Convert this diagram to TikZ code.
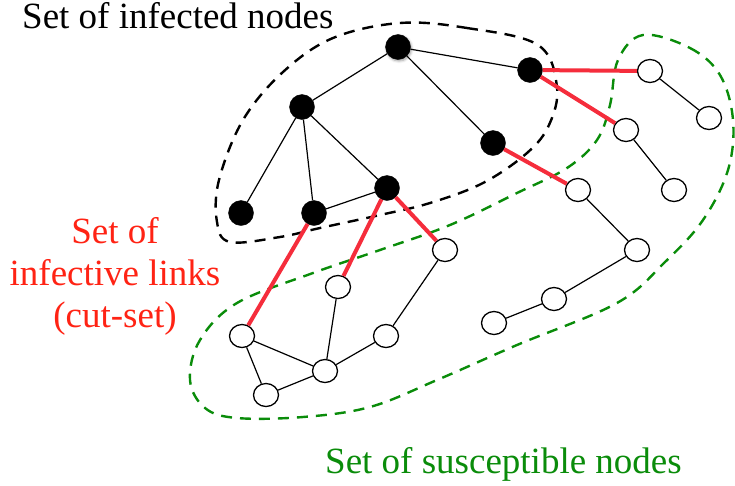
\documentclass[tikz,border=0pt]{standalone}
\usepackage{fontspec}
\setmainfont{Liberation Serif}
% one face per label colour, the colour carried by the font itself
\newfontfamily\inkfont{Liberation Serif}[Color=000000]
\newfontfamily\cutfont{Liberation Serif}[Color=FF2314]
\newfontfamily\susfont{Liberation Serif}[Color=0A8C0A]
\usetikzlibrary{shapes.geometric,shadows.blur}
\definecolor{linkred}{RGB}{245,45,60}
\definecolor{setgreen}{RGB}{10,140,10}
\tikzset{
  inf/.style={circle,fill=black,draw=black,minimum size=25pt,inner sep=0pt},
  sus/.style={ellipse,fill=white,draw=black,line width=1.3pt,minimum width=25pt,minimum height=23pt,inner sep=0pt},
  link/.style={line width=1.2pt,black},
  cut/.style={line width=4pt,linkred},
  region/.style={line width=2.4pt,dash pattern=on 11pt off 8pt},
  lbl/.style={inner sep=0pt}
}
\newcommand{\lblsize}{\fontsize{37}{42}\selectfont}
\begin{document}
\begin{tikzpicture}[x=1pt,y=-1pt]
\useasboundingbox (0,0) rectangle (735,485);

% dashed set boundaries
\draw[region,black] plot[smooth cycle,tension=0.6] coordinates {
  (400,23) (467,28) (538,45) (557,87) (549,125) (527,153) (483,183)
  (430,203) (380,215) (320,228) (280,237) (230,242) (217,222)
  (219,180) (243,120) (283,72) (333,38)};
\draw[region,setgreen] plot[smooth cycle,tension=0.6] coordinates {
  (643,35) (690,48) (720,75) (733,120) (728,170) (703,220) (665,262)
  (617,303) (517,345) (437,380) (370,407) (303,417) (237,418) (205,408)
  (190,380) (200,340) (237,303) (313,273) (380,250) (450,225) (517,193)
  (567,168) (597,140) (610,105) (618,60)};

% infected nodes
\node[inf,blur shadow={shadow xshift=1pt,shadow yshift=-1.5pt,shadow blur radius=2.5pt,shadow opacity=40}] (i0) at (398,47) {};
\node[inf] (i1) at (530,70) {};
\node[inf] (i2) at (302,107) {};
\node[inf] (i3) at (493,143) {};
\node[inf] (i4) at (387,188) {};
\node[inf] (i5) at (241,213) {};
\node[inf] (i6) at (314,213) {};

% susceptible nodes
\node[sus] (s1) at (650,71) {};
\node[sus] (s2) at (709,118) {};
\node[sus] (s3) at (626,130) {};
\node[sus] (s4) at (674,190) {};
\node[sus] (s5) at (578,190) {};
\node[sus] (s6) at (637,250) {};
\node[sus] (s7) at (554,299) {};
\node[sus] (s8) at (494,323) {};
\node[sus] (s9) at (445,250) {};
\node[sus] (s10) at (338,287) {};
\node[sus] (s11) at (386,336) {};
\node[sus] (s12) at (242,336) {};
\node[sus] (s13) at (325,371) {};
\node[sus] (s14) at (266,395) {};

% links inside the infected set
\draw[link] (i0) -- (i2);
\draw[link] (i0) -- (i1);
\draw[link] (i0) -- (i3);
\draw[link] (i2) -- (i5);
\draw[link] (i2) -- (i6);
\draw[link] (i2) -- (i4);
\draw[link] (i6) -- (i4);

% links inside the susceptible set
\draw[link] (s1) -- (s2);
\draw[link] (s3) -- (s4);
\draw[link] (s5) -- (s6);
\draw[link] (s6) -- (s7);
\draw[link] (s7) -- (s8);
\draw[link] (s12) -- (s13);
\draw[link] (s12) -- (s14);
\draw[link] (s14) -- (s13);
\draw[link] (s13) -- (s10);
\draw[link] (s13) -- (s11);
\draw[link] (s11) -- (s9);

% infective links (cut-set)
\draw[cut] (i1) -- (s1);
\draw[cut] (i1) -- (s3);
\draw[cut] (i3) -- (s5);
\draw[cut] (i6) -- (s12);
\draw[cut] (i4) -- (s10);
\draw[cut] (i4) -- (s9);

% labels
\node[lbl,anchor=base west,font=\inkfont\lblsize] (tinf) at (22,28) {Set of infected nodes};
\node[lbl,anchor=base,align=center,font=\cutfont\lblsize] (tcut) at (115,327)
  {Set of\\infective links\\(cut-set)};
\node[lbl,anchor=base west,font=\susfont\lblsize] (tsus) at (325,473) {Set of susceptible nodes};
\end{tikzpicture}
\end{document}
